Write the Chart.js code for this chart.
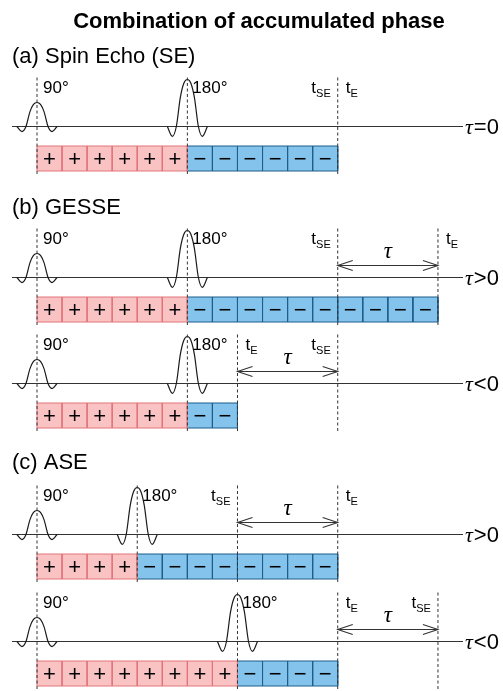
<!DOCTYPE html>
<html>
<head>
<meta charset="utf-8">
<script src="https://cdn.jsdelivr.net/npm/chart.js@4.4.0/dist/chart.umd.min.js"></script>
<style>
  html, body { margin: 0; padding: 0; background: #fff; }
  canvas { display: block; }
</style>
</head>
<body>
<canvas id="myChart" width="503" height="691"></canvas>
<script>
// timing of each sequence, in units of one phase box (90° pulse at 0)
const rowTitles = ['(a) Spin Echo (SE)', '(b) GESSE', '', '(c) ASE', ''];
const tauSigns = ['=0', '>0', '<0', '>0', '<0'];
const t90 = [0, 0, 0, 0, 0];
const t180 = [6, 6, 6, 4, 8];
const tSE = [12, 12, 12, 8, 16];
const tE = [12, 16, 8, 12, 12];
const plusBoxes = [6, 6, 6, 4, 8];
const minusBoxes = [6, 10, 2, 8, 4];

// sinc-like rf pulse (offset in box units, normalised height)
const pulseOffsets = [-0.8, -0.6, -0.44, -0.28, -0.14, 0, 0.14, 0.28, 0.44, 0.6, 0.8];
const pulseShape = [0, -0.21, 0, 0.62, 0.92, 1, 0.92, 0.62, 0, -0.21, 0];

// layout (pixels)
const UNIT = 25.06;
const ORIGIN = 37;
const rowBase = [126.5, 277.5, 383.5, 534.5, 641.5];
const rowTitleY = [63, 214, 0, 469, 0];
const amp90 = 24, amp180 = 47;

const pink = '#f9c3c4', pinkEdge = '#e27478';
const blue = '#84c3ec', blueEdge = '#1d5d8a';
const ink = '#1a1a1a', grey = '#333';
const SANS = '"Liberation Sans", Arial, sans-serif';
const SERIF = '"Liberation Serif", "Times New Roman", serif';

const datasets = [];

rowBase.forEach((base, r) => {
    const top = base + 19.5, bot = top + 25;

    // phase boxes
    const runs = [[t90[r], plusBoxes[r], pink, pinkEdge], [t180[r], minusBoxes[r], blue, blueEdge]];
    runs.forEach(([start, n, fillC, edgeC]) => {
        const end = start + n;
        datasets.push({
            data: [{x: start, y: top}, {x: end, y: top}],
            fill: {value: bot}, backgroundColor: fillC, borderWidth: 0, order: 5
        });
        const outline = [{x: start, y: top}, {x: end, y: top}, {x: end, y: bot}, {x: start, y: bot}, {x: start, y: top}];
        for (let i = 1; i < n; i++) {
            outline.push({x: start + i, y: null}, {x: start + i, y: top}, {x: start + i, y: bot});
        }
        datasets.push({data: outline, borderColor: edgeC, borderWidth: 1, fill: false, order: 4});
    });

    // time axis
    datasets.push({data: [{x: -1, y: base}, {x: 17, y: base}], borderColor: grey, borderWidth: 1, fill: false, order: 3});

    // rf pulses
    [[t90[r], amp90], [t180[r], amp180]].forEach(([t, a]) => {
        datasets.push({
            data: pulseOffsets.map((o, i) => ({x: t + o, y: base - a * pulseShape[i]})),
            borderColor: ink, borderWidth: 1.2, fill: false,
            cubicInterpolationMode: 'monotone', order: 2
        });
    });

    // dashed markers
    const marks = [...new Set([t90[r], t180[r], tSE[r], tE[r]])];
    const dashed = [];
    marks.forEach(t => dashed.push({x: t, y: null}, {x: t, y: base - 49}, {x: t, y: base + 50}));
    datasets.push({data: dashed, borderColor: grey, borderWidth: 1, borderDash: [3, 2.5], fill: false, order: 1});

    // tau arrow
    if (tSE[r] !== tE[r]) {
        const a = Math.min(tSE[r], tE[r]), b = Math.max(tSE[r], tE[r]);
        const y = base - 12, h = 0.6;
        datasets.push({
            data: [
                {x: a, y: y}, {x: b, y: y}, {x: a, y: null},
                {x: a + h, y: y - 5}, {x: a, y: y}, {x: a + h, y: y + 5}, {x: a, y: null},
                {x: b - h, y: y - 5}, {x: b, y: y}, {x: b - h, y: y + 5}
            ],
            borderColor: grey, borderWidth: 1.1, fill: false, order: 0
        });
    }
});

function subLabel(ctx, main, sub, x, y, align) {
    ctx.font = '17px ' + SANS;
    const w1 = ctx.measureText(main).width;
    ctx.font = '11px ' + SANS;
    const w2 = ctx.measureText(sub).width;
    const x0 = align === 'right' ? x - w1 - w2 : x;
    ctx.textAlign = 'left';
    ctx.font = '17px ' + SANS;
    ctx.fillText(main, x0, y);
    ctx.font = '11px ' + SANS;
    ctx.fillText(sub, x0 + w1, y + 4);
}

const labelPlugin = {
    id: 'labels',
    afterDatasetsDraw(chart) {
        const {ctx, scales: {x, y}} = chart;
        ctx.save();
        ctx.fillStyle = '#000';
        ctx.textBaseline = 'alphabetic';

        ctx.font = 'bold 22px ' + SANS;
        ctx.textAlign = 'center';
        ctx.fillText('Combination of accumulated phase', 259, y.getPixelForValue(28));

        rowBase.forEach((base, r) => {
            const top = base + 19.5;
            if (rowTitles[r]) {
                ctx.font = '22px ' + SANS;
                ctx.textAlign = 'left';
                ctx.fillText(rowTitles[r], 12, y.getPixelForValue(rowTitleY[r]));
            }

            // signs inside the boxes
            ctx.font = '22px ' + SANS;
            ctx.textAlign = 'center';
            ctx.textBaseline = 'middle';
            const cy = y.getPixelForValue(top + 12.5) + 1;
            for (let i = 0; i < plusBoxes[r]; i++) {
                ctx.fillText('+', x.getPixelForValue(t90[r] + i + 0.5), cy);
            }
            for (let i = 0; i < minusBoxes[r]; i++) {
                ctx.fillText('\u2212', x.getPixelForValue(t180[r] + i + 0.5), cy);
            }
            ctx.textBaseline = 'alphabetic';

            // pulse and echo labels
            const ly = y.getPixelForValue(base - 34);
            ctx.font = '17px ' + SANS;
            ctx.textAlign = 'left';
            ctx.fillText('90°', x.getPixelForValue(t90[r]) + 6, ly);
            ctx.fillText('180°', x.getPixelForValue(t180[r]) + 5, ly);
            subLabel(ctx, 't', 'SE', x.getPixelForValue(tSE[r]) - 7, ly, 'right');
            subLabel(ctx, 't', 'E', x.getPixelForValue(tE[r]) + 8, ly, 'left');

            // tau over the arrow
            if (tSE[r] !== tE[r]) {
                ctx.font = 'italic 23px ' + SERIF;
                ctx.textAlign = 'center';
                ctx.fillText('\u03c4', x.getPixelForValue((tSE[r] + tE[r]) / 2), y.getPixelForValue(base - 20));
            }

            // tau condition at the right end
            const ry = y.getPixelForValue(base + 7);
            ctx.textAlign = 'left';
            ctx.font = 'italic 22px ' + SERIF;
            ctx.fillText('\u03c4', 465, ry);
            const tw = ctx.measureText('\u03c4').width;
            ctx.font = '22px ' + SANS;
            ctx.fillText(tauSigns[r], 465 + tw + 1, ry);
        });
        ctx.restore();
    }
};

const ctx = document.getElementById('myChart').getContext('2d');
const myChart = new Chart(ctx, {
    type: 'line',
    data: {datasets: datasets},
    options: {
        responsive: false,
        animation: false,
        events: [],
        layout: {padding: 0},
        elements: {point: {radius: 0}, line: {tension: 0}},
        plugins: {legend: {display: false}, tooltip: {enabled: false}, title: {display: false}},
        scales: {
            x: {type: 'linear', min: -ORIGIN / UNIT, max: (503 - ORIGIN) / UNIT, display: false},
            y: {type: 'linear', min: 0, max: 691, reverse: true, display: false}
        }
    },
    plugins: [labelPlugin]
});
</script>
</body>
</html>
